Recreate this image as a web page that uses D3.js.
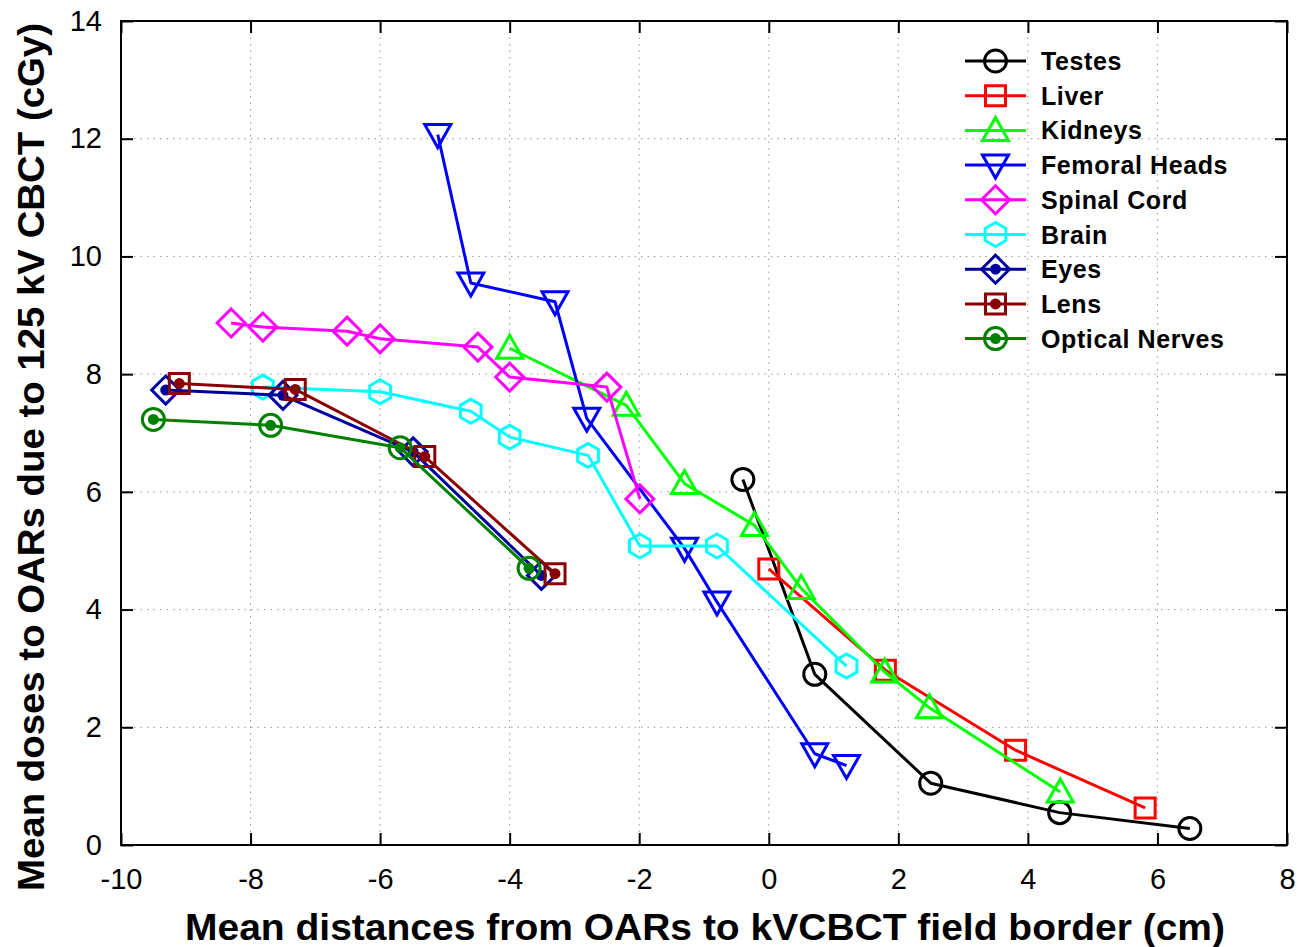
<!DOCTYPE html>
<html>
<head>
<meta charset="utf-8">
<script src="https://cdn.jsdelivr.net/npm/d3@7"></script>
<style>
  body { margin: 0; background: #fff; }
  svg { display: block; font-family: "Liberation Sans", Arial, sans-serif; }
</style>
</head>
<body>
<div id="chart"></div>
<script>
// data: [distance cm, dose cGy]
const testes = [[-0.4, 6.21], [0.71, 2.9], [2.5, 1.05], [4.49, 0.55], [6.5, 0.28]];
const liver = [[0.0, 4.69], [1.8, 2.97], [3.81, 1.61], [5.81, 0.63]];
const kidneys = [[-4.0, 8.44], [-2.2, 7.47], [-1.3, 6.14], [-0.22, 5.43], [0.5, 4.36], [1.79, 2.94], [2.48, 2.33], [4.5, 0.9]];
const femoralHeads = [[-5.11, 12.07], [-4.6, 9.55], [-3.3, 9.23], [-2.81, 7.25], [-1.3, 5.04], [-0.8, 4.13], [0.71, 1.55], [1.2, 1.35]];
const spinalCord = [[-8.3, 8.87], [-7.81, 8.8], [-6.51, 8.73], [-6.0, 8.6], [-4.49, 8.46], [-4.0, 7.95], [-2.5, 7.78], [-1.99, 5.88]];
const brain = [[-7.81, 7.78], [-6.0, 7.7], [-4.6, 7.37], [-4.0, 6.93], [-2.79, 6.62], [-1.99, 5.08], [-0.8, 5.08], [1.2, 3.04]];
const eyes = [[-9.31, 7.73], [-7.5, 7.64], [-5.49, 6.68], [-3.51, 4.58]];
const lens = [[-9.1, 7.84], [-7.31, 7.74], [-5.31, 6.6], [-3.3, 4.61]];
const opticalNerves = [[-9.5, 7.23], [-7.69, 7.13], [-5.69, 6.75], [-3.7, 4.7]];

const xTicks = [-10, -8, -6, -4, -2, 0, 2, 4, 6, 8];
const yTicks = [0, 2, 4, 6, 8, 10, 12, 14];

const series = [
  { name: 'Testes', values: testes, color: '#000000', marker: 'circle', dot: false },
  { name: 'Liver', values: liver, color: '#ff0000', marker: 'square', dot: false },
  { name: 'Kidneys', values: kidneys, color: '#00ff00', marker: 'triUp', dot: false },
  { name: 'Femoral Heads', values: femoralHeads, color: '#0000ff', marker: 'triDown', dot: false },
  { name: 'Spinal Cord', values: spinalCord, color: '#ff00ff', marker: 'diamond', dot: false },
  { name: 'Brain', values: brain, color: '#00ffff', marker: 'hexagon', dot: false },
  { name: 'Eyes', values: eyes, color: '#00009c', marker: 'diamond', dot: true },
  { name: 'Lens', values: lens, color: '#8b0000', marker: 'square', dot: true },
  { name: 'Optical Nerves', values: opticalNerves, color: '#008000', marker: 'circle', dot: true }
];

const width = 1299;
const height = 947;
const margin = { top: 21, right: 12, bottom: 102, left: 121 };

const svg = d3.select('#chart').append('svg')
  .attr('width', width)
  .attr('height', height);

const xScale = d3.scaleLinear().domain([-10, 8]).range([margin.left, width - margin.right]);
const yScale = d3.scaleLinear().domain([0, 14]).range([height - margin.bottom, margin.top]);

const x0 = xScale.range()[0], x1 = xScale.range()[1];
const y0 = yScale.range()[0], y1 = yScale.range()[1];

// dotted grid
const grid = svg.append('g').attr('class', 'grid')
  .attr('stroke', '#999').attr('stroke-width', 1).attr('stroke-dasharray', '1.5,5');
grid.selectAll('.gx').data(xTicks.slice(1, -1)).join('line')
  .attr('x1', d => xScale(d)).attr('x2', d => xScale(d))
  .attr('y1', y0).attr('y2', y1);
grid.selectAll('.gy').data(yTicks.slice(1, -1)).join('line')
  .attr('x1', x0).attr('x2', x1)
  .attr('y1', d => yScale(d)).attr('y2', d => yScale(d));

// axes with inward ticks, mirrored on top/right (box on)
const tickLen = 12;
const plain = d => String(d); // hyphen minus like the original
svg.append('g')
  .attr('transform', `translate(0,${y0})`)
  .call(d3.axisBottom(xScale).tickValues(xTicks).tickSizeInner(-tickLen).tickSizeOuter(0).tickPadding(23).tickFormat(plain))
  .call(g => g.select('.domain').remove());
svg.append('g')
  .attr('transform', `translate(0,${y1})`)
  .call(d3.axisTop(xScale).tickValues(xTicks).tickSizeInner(-tickLen).tickSizeOuter(0).tickFormat(''))
  .call(g => g.select('.domain').remove());
svg.append('g')
  .attr('transform', `translate(${x0},0)`)
  .call(d3.axisLeft(yScale).tickValues(yTicks).tickSizeInner(-tickLen).tickSizeOuter(0).tickPadding(19).tickFormat(plain))
  .call(g => g.select('.domain').remove());
svg.append('g')
  .attr('transform', `translate(${x1},0)`)
  .call(d3.axisRight(yScale).tickValues(yTicks).tickSizeInner(-tickLen).tickSizeOuter(0).tickFormat(''))
  .call(g => g.select('.domain').remove());

svg.selectAll('.tick line').attr('stroke', '#000').attr('stroke-width', 2);
svg.selectAll('.tick text')
  .attr('font-size', 29)
  .attr('font-family', '"Liberation Sans", Arial, sans-serif')
  .attr('fill', '#000');

svg.append('rect')
  .attr('x', x0).attr('y', y1)
  .attr('width', x1 - x0).attr('height', y0 - y1)
  .attr('fill', 'none').attr('stroke', '#000').attr('stroke-width', 2);

// marker shapes
function markerPath(type) {
  const p = d3.path();
  if (type === 'square') {
    p.rect(-10, -10, 20, 20);
  } else if (type === 'triUp') {
    p.moveTo(0, -13); p.lineTo(13, 10); p.lineTo(-13, 10); p.closePath();
  } else if (type === 'triDown') {
    p.moveTo(0, 13); p.lineTo(13, -10); p.lineTo(-13, -10); p.closePath();
  } else if (type === 'diamond') {
    p.moveTo(0, -14); p.lineTo(14, 0); p.lineTo(0, 14); p.lineTo(-14, 0); p.closePath();
  } else if (type === 'hexagon') {
    for (let i = 0; i < 6; i++) {
      const a = Math.PI / 2 + i * Math.PI / 3;
      const px = 12 * Math.cos(a), py = 12 * Math.sin(a);
      if (i === 0) p.moveTo(px, py); else p.lineTo(px, py);
    }
    p.closePath();
  } else {
    p.arc(0, 0, 11, 0, 2 * Math.PI);
  }
  return p.toString();
}

function drawMarker(g, s, cx, cy) {
  g.append('path')
    .attr('d', markerPath(s.marker))
    .attr('transform', `translate(${cx},${cy})`)
    .attr('fill', 'none')
    .attr('stroke', s.color)
    .attr('stroke-width', 3);
  if (s.dot) {
    g.append('circle')
      .attr('cx', cx).attr('cy', cy).attr('r', 5.5)
      .attr('fill', s.color);
  }
}

const line = d3.line().x(d => xScale(d[0])).y(d => yScale(d[1]));

const plot = svg.append('g').attr('class', 'series');
series.forEach(s => {
  const g = plot.append('g');
  g.append('path')
    .datum(s.values)
    .attr('d', line)
    .attr('fill', 'none')
    .attr('stroke', s.color)
    .attr('stroke-width', 3)
    .attr('stroke-linejoin', 'round');
  s.values.forEach(d => drawMarker(g, s, xScale(d[0]), yScale(d[1])));
});

// legend
const legend = svg.append('g').attr('class', 'legend');
series.forEach((s, i) => {
  const ly = 61 + i * 34.7;
  const g = legend.append('g');
  g.append('line')
    .attr('x1', 965).attr('x2', 1026)
    .attr('y1', ly).attr('y2', ly)
    .attr('stroke', s.color).attr('stroke-width', 3);
  drawMarker(g, s, 995.5, ly);
  g.append('text')
    .attr('x', 1041).attr('y', ly)
    .attr('dy', '0.36em')
    .attr('font-size', 25)
    .attr('font-weight', 'bold')
    .attr('letter-spacing', 0.6)
    .text(s.name);
});

// axis titles
svg.append('text')
  .attr('x', 705).attr('y', 940)
  .attr('text-anchor', 'middle')
  .attr('font-size', 36)
  .attr('font-weight', 'bold')
  .attr('textLength', 1040)
  .attr('lengthAdjust', 'spacingAndGlyphs')
  .text('Mean distances from OARs to kVCBCT field border (cm)');

svg.append('text')
  .attr('transform', 'translate(44,457) rotate(-90)')
  .attr('text-anchor', 'middle')
  .attr('font-size', 36)
  .attr('font-weight', 'bold')
  .attr('textLength', 868)
  .attr('lengthAdjust', 'spacingAndGlyphs')
  .text('Mean doses to OARs due to 125 kV CBCT (cGy)');
</script>
</body>
</html>
